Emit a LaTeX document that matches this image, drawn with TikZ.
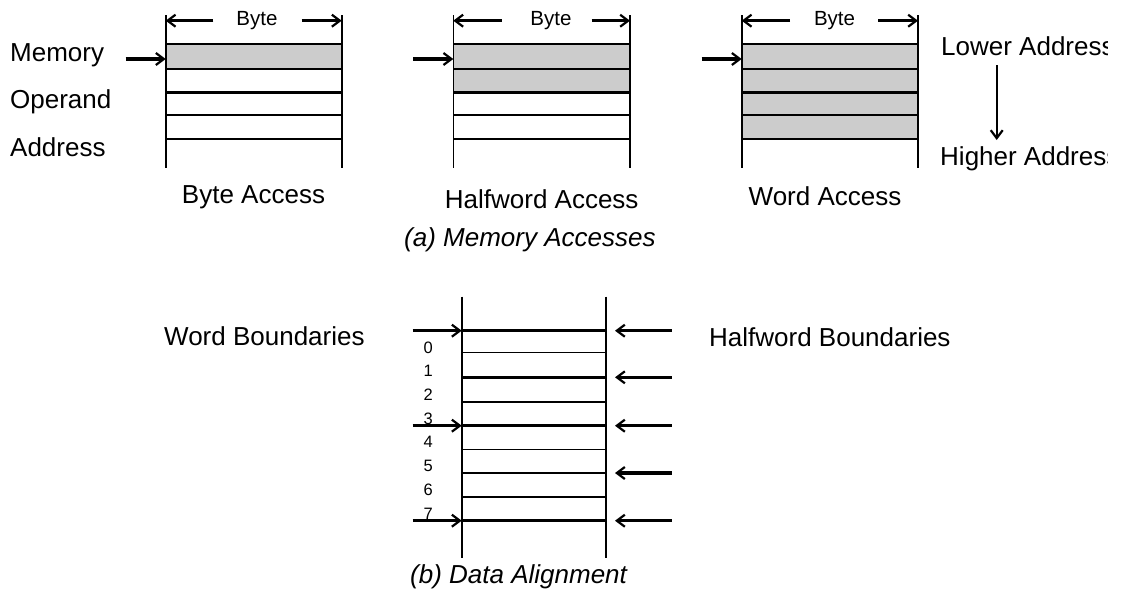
\documentclass[tikz,border=0pt]{standalone}
\usepackage{fontspec}
\setmainfont{Liberation Sans}
\usetikzlibrary{arrows.meta}
\definecolor{cellgray}{RGB}{204,204,204}
\tikzset{
  px/.style={x=1pt,y=-1pt},
  lbl/.style={inner sep=0pt,anchor=base west,font=\fontsize{26}{30}\selectfont},
  figcaption/.style={inner sep=0pt,anchor=base west,font=\fontsize{26}{30}\selectfont\itshape},
  bytelbl/.style={inner sep=0pt,anchor=base,font=\fontsize{20.5}{24}\selectfont},
  digit/.style={inner sep=0pt,anchor=base,font=\fontsize{16.5}{18}\selectfont},
  barb/.tip={Straight Barb[length=8pt,width=12pt,line width=2.2pt]},
  ptr/.style={line width=3.2pt,-barb},
  thinptr/.style={line width=2.2pt,-barb},
  vline/.style={line width=1.6pt},
  rowline/.style={line width=1.8pt},
  thickrow/.style={line width=3.4pt},
  midrow/.style={line width=2.4pt},
  hairrow/.style={line width=1.2pt},
}
\begin{document}
\begin{tikzpicture}[px]
\useasboundingbox (0,0) rectangle (1126,603);

% ---------- (a) memory accesses: three byte columns ----------
% rows: y = 44, 69, 92.3, 115, 139.3 ; columns: left/right edges
\foreach \L/\R/\n/\cx/\ga/\gb in {165.7/341.7/1/257/213.3/301.7,453.3/630/2/551/501.7/591.7,741.7/918/3/834.5/790/878.3}{
  % shaded rows
  \ifnum\n=1 \fill[cellgray] (\L,44) rectangle (\R,69); \fi
  \ifnum\n=2 \fill[cellgray] (\L,44) rectangle (\R,92.3); \fi
  \ifnum\n=3 \fill[cellgray] (\L,44) rectangle (\R,139.3); \fi
  % column edges
  \coordinate (top\n L) at (\L,15);
  \coordinate (bot\n L) at (\L,168);
  \coordinate (top\n R) at (\R,15);
  \coordinate (bot\n R) at (\R,168);
  \draw[vline] (top\n L) -- (bot\n L);
  \draw[vline] (top\n R) -- (bot\n R);
  % row separators
  \draw[rowline] (\L,44) -- (\R,44);
  \draw[rowline] (\L,69) -- (\R,69);
  \draw[midrow] (\L,92.3) -- (\R,92.3);
  \draw[midrow] (\L,115) -- (\R,115);
  \draw[rowline] (\L,139.3) -- (\R,139.3);
  % byte width dimension
  \node[bytelbl] (byte\n) at (\cx,25.7) {Byte};
  \coordinate (bw\n a) at (\ga,20.7);
  \coordinate (bw\n b) at (\gb,20.7);
  \coordinate (bw\n L) at (\L,20.7);
  \coordinate (bw\n R) at (\R,20.7);
  \draw[ptr] (bw\n a) -- (bw\n L);
  \draw[ptr] (bw\n b) -- (bw\n R);
  % address pointer
  \coordinate (ap\n) at (\L-40,59);
  \coordinate (ah\n) at (\L,59);
  \draw[ptr] (ap\n) -- (ah\n);
}

\node[lbl] (mem) at (10,61) {Memory};
\node[lbl] (opd) at (10,108) {Operand};
\node[lbl] (adr) at (10,156.7) {Address};

\node[lbl,anchor=base] (bacc) at (253.5,203.3) {Byte Access};
\node[lbl,anchor=base] (hacc) at (541.7,208.3) {Halfword Access};
\node[lbl,anchor=base] (wacc) at (825,205) {Word Access};

% address direction legend; its text box is cut off at the right
\begin{scope}
  \clip (930,0) rectangle (1107,200);
  \node[lbl] (lo) at (941,55) {Lower Address};
  \node[lbl] (hi) at (940,165) {Higher Address};
\end{scope}
\coordinate (dirA) at (996.7,65);
\coordinate (dirB) at (996.7,140);
\draw[thinptr] (dirA) -- (dirB);

\node[figcaption] (capa) at (404,246.7) {(a) Memory Accesses};

% ---------- (b) data alignment ----------
\coordinate (bTL) at (461.7,296.7);
\coordinate (bBL) at (461.7,558);
\coordinate (bTR) at (606,296.7);
\coordinate (bBR) at (606,558);
\draw[vline] (bTL) -- (bBL);
\draw[vline] (bTR) -- (bBR);

\foreach \y/\st in {330.7/thickrow,352.7/hairrow,377.3/midrow,401.7/midrow,425.7/thickrow,449.7/hairrow,473/midrow,496.7/midrow,520.7/thickrow}{
  \draw[\st] (461.7,\y) -- (606,\y);
}

\foreach \i in {0,...,7}{
  \node[digit] (d\i) at (428.3,353.3+23.67*\i) {\i};
}

% word boundaries (left side)
\foreach \y/\k in {330.7/1,425.7/2,520.7/3}{
  \coordinate (wbs\k) at (412.7,\y);
  \coordinate (wbe\k) at (461.7,\y);
  \draw[ptr] (wbs\k) -- (wbe\k);
}
% halfword boundaries (right side)
\foreach \y/\k in {330.7/1,377.3/2,425.7/3,473/4,520.7/5}{
  \coordinate (hbs\k) at (671.7,\y);
  \coordinate (hbe\k) at (615,\y);
  \draw[ptr] (hbs\k) -- (hbe\k);
}

\node[lbl] (wb) at (164,345) {Word Boundaries};
\node[lbl] (hb) at (709,346) {Halfword Boundaries};

\node[figcaption] (capb) at (410,583.3) {(b) Data Alignment};
\end{tikzpicture}
\end{document}
